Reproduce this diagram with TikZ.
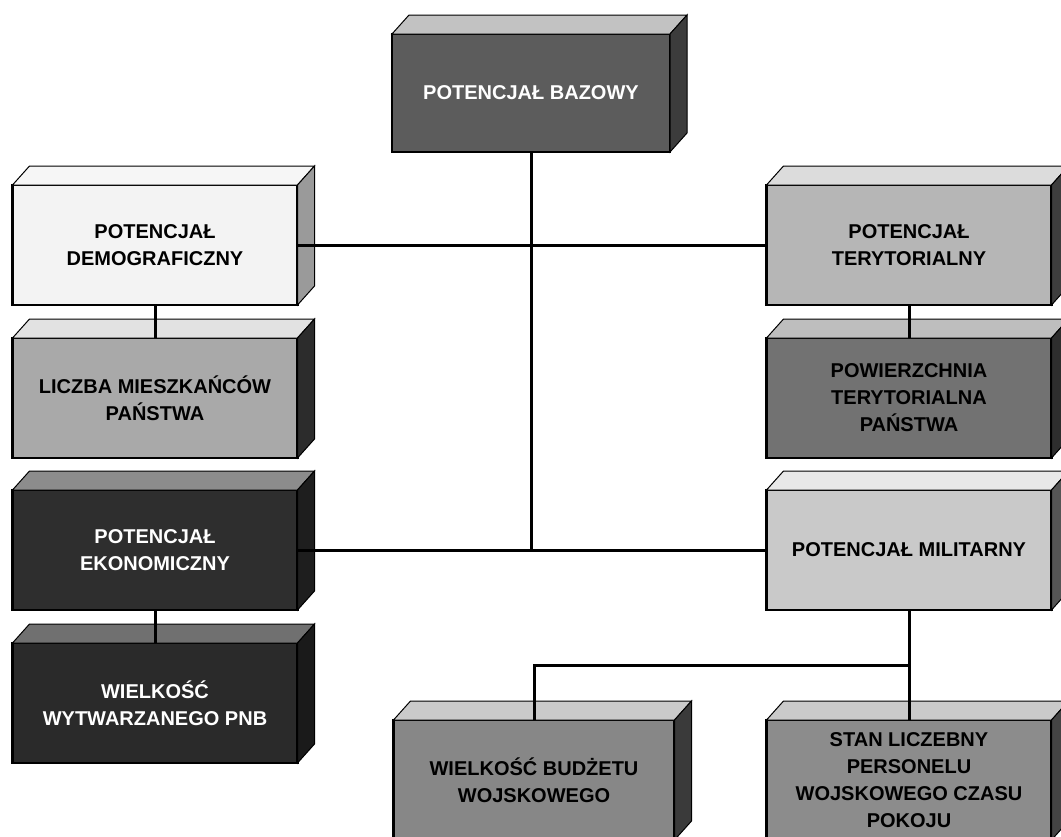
\documentclass[tikz,border=0pt]{standalone}
\usepackage{fontspec}
\setmainfont{Liberation Sans}
\usepackage{tikz}
\usetikzlibrary{positioning,calc}

\definecolor{bazF}{HTML}{5C5C5C}\definecolor{bazT}{HTML}{C2C2C2}\definecolor{bazS}{HTML}{3C3C3C}
\definecolor{demF}{HTML}{F3F3F3}\definecolor{demT}{HTML}{F6F6F6}\definecolor{demS}{HTML}{9A9A9A}
\definecolor{licF}{HTML}{A9A9A9}\definecolor{licT}{HTML}{E2E2E2}\definecolor{licS}{HTML}{2C2C2C}
\definecolor{ekoF}{HTML}{2E2E2E}\definecolor{ekoT}{HTML}{8C8C8C}\definecolor{ekoS}{HTML}{1E1E1E}
\definecolor{pnbF}{HTML}{2A2A2A}\definecolor{pnbT}{HTML}{707070}\definecolor{pnbS}{HTML}{1A1A1A}
\definecolor{terF}{HTML}{B6B6B6}\definecolor{terT}{HTML}{DCDCDC}\definecolor{terS}{HTML}{3E3E3E}
\definecolor{powF}{HTML}{727272}\definecolor{powT}{HTML}{BEBEBE}\definecolor{powS}{HTML}{2E2E2E}
\definecolor{milF}{HTML}{C9C9C9}\definecolor{milT}{HTML}{E8E8E8}\definecolor{milS}{HTML}{555555}
\definecolor{budF}{HTML}{878787}\definecolor{budT}{HTML}{CACACA}\definecolor{budS}{HTML}{3A3A3A}
\definecolor{staF}{HTML}{8C8C8C}\definecolor{staT}{HTML}{CACACA}\definecolor{staS}{HTML}{444444}

\begin{document}
\begin{tikzpicture}[
    x=0.5pt, y=-0.5pt,
    node distance=16.5pt,
    outer sep=0pt,
    blok/.style={draw, rectangle, line width=1.2pt, minimum width=142.5pt, minimum height=60pt, inner sep=2pt, align=center, font=\bfseries\fontsize{10}{13.5}\selectfont},
    face/.style={draw=black, line width=0.5pt},
    link/.style={draw, line width=1.5pt}
]
    \clip (0,0) rectangle (1061,836);
    \fill[white] (0,0) rectangle (1061,836);

    \node [blok, fill=bazF, text=white, minimum width=139pt, minimum height=59pt] (baz) at (531,93) {POTENCJAŁ BAZOWY};
    % left column
    \node [blok, fill=demF] (dem) at (155,245) {POTENCJAŁ\\DEMOGRAFICZNY};
    \node [blok, fill=licF, below=of dem] (lic) {LICZBA MIESZKAŃCÓW\\PAŃSTWA};
    \node [blok, fill=ekoF, text=white, below=16pt of lic] (eko) {POTENCJAŁ\\EKONOMICZNY};
    \node [blok, fill=pnbF, text=white, below=16.5pt of eko] (pnb) {WIELKOŚĆ\\WYTWARZANEGO PNB};
    % right column
    \node [blok, fill=terF] (ter) at (909,245) {POTENCJAŁ\\TERYTORIALNY};
    \node [blok, fill=powF, below=of ter] (pow) {POWIERZCHNIA\\TERYTORIALNA\\PAŃSTWA};
    \node [blok, fill=milF, below=16pt of pow] (mil) {POTENCJAŁ MILITARNY};
    \node [blok, fill=staF, below=55pt of mil] (sta) {STAN LICZEBNY\\PERSONELU\\WOJSKOWEGO CZASU\\POKOJU};
    \node [blok, fill=budF, minimum width=140.5pt] (bud) at (534,780) {WIELKOŚĆ BUDŻETU\\WOJSKOWEGO};

    % top and side faces
    \foreach \n/\c in {baz/baz, dem/dem, lic/lic, eko/eko, pnb/pnb, ter/ter, pow/pow, mil/mil, bud/bud, sta/sta} {
        \filldraw [face, fill=\c T] (\n.north west) -- ([shift={(17,-19)}]\n.north west)
            -- ([shift={(17,-19)}]\n.north east) -- (\n.north east) -- cycle;
        \filldraw [face, fill=\c S] (\n.north east) -- ([shift={(17,-19)}]\n.north east)
            -- ([shift={(17,-19)}]\n.south east) -- (\n.south east) -- cycle;
    }

    % connectors
    \draw [link] (dem.east) -- (ter.west);
    \draw [link] (mil.west) -- (mil.west -| eko.east);
    \draw [link] (baz.south) -- (baz.south |- mil.west);
    \draw [link] (dem.south) -- (dem.south |- lic.north);
    \draw [link] (ter.south) -- (ter.south |- pow.north);
    \draw [link] (eko.south) -- (eko.south |- pnb.north);
    \coordinate (split) at ($(mil.south)!0.5!(sta.north)$);
    \draw [link] (mil.south) -- (sta.north);
    \draw [link] (split) -| (bud.north);
\end{tikzpicture}
\end{document}
